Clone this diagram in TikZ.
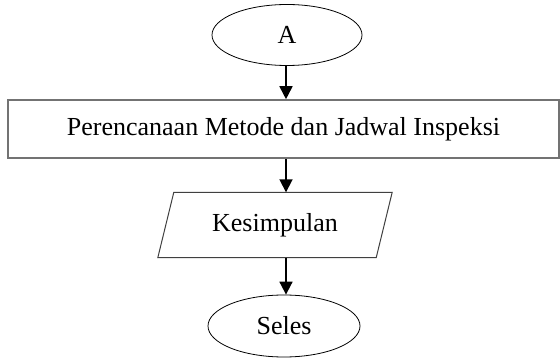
\documentclass[tikz,border=0pt]{standalone}
\usepackage{fontspec}
\setmainfont{Liberation Serif}
\usetikzlibrary{shapes.geometric,arrows.meta,calc}
\begin{document}
\begin{tikzpicture}[x=1pt,y=-1pt,
  every node/.style={font=\fontsize{26}{30}\selectfont, inner sep=0pt},
  term/.style={ellipse, draw=black, line width=0.8pt},
  procbox/.style={rectangle, draw=black!55, line width=1.6pt},
  arr/.style={line width=1.8pt, -{Triangle[length=13pt,width=13pt]}}]
\useasboundingbox (0,0) rectangle (560,358);
\node[term, minimum width=150, minimum height=61] (A) at (287,35) {A};
\node[procbox, minimum width=551, minimum height=58] (r) at (283.5,129) {Perencanaan Metode dan Jadwal Inspeksi};
\node[minimum width=234, minimum height=65] (k) at (275,225) {Kesimpulan};
\draw[black!75, line width=1pt] ($(k.north west)+(16,0)$) -- (k.north east) -- ($(k.south east)-(16,0)$) -- (k.south west) -- cycle;
\node[term, minimum width=152, minimum height=62] (s) at (284,326) {Seles};
\draw[arr] (286,0 |- A.south) -- (286,0 |- r.north);
\draw[arr] (286,0 |- r.south) -- (286,0 |- k.north);
\draw[arr] (286,0 |- k.south) -- (286,0 |- s.north);
\end{tikzpicture}
\end{document}
